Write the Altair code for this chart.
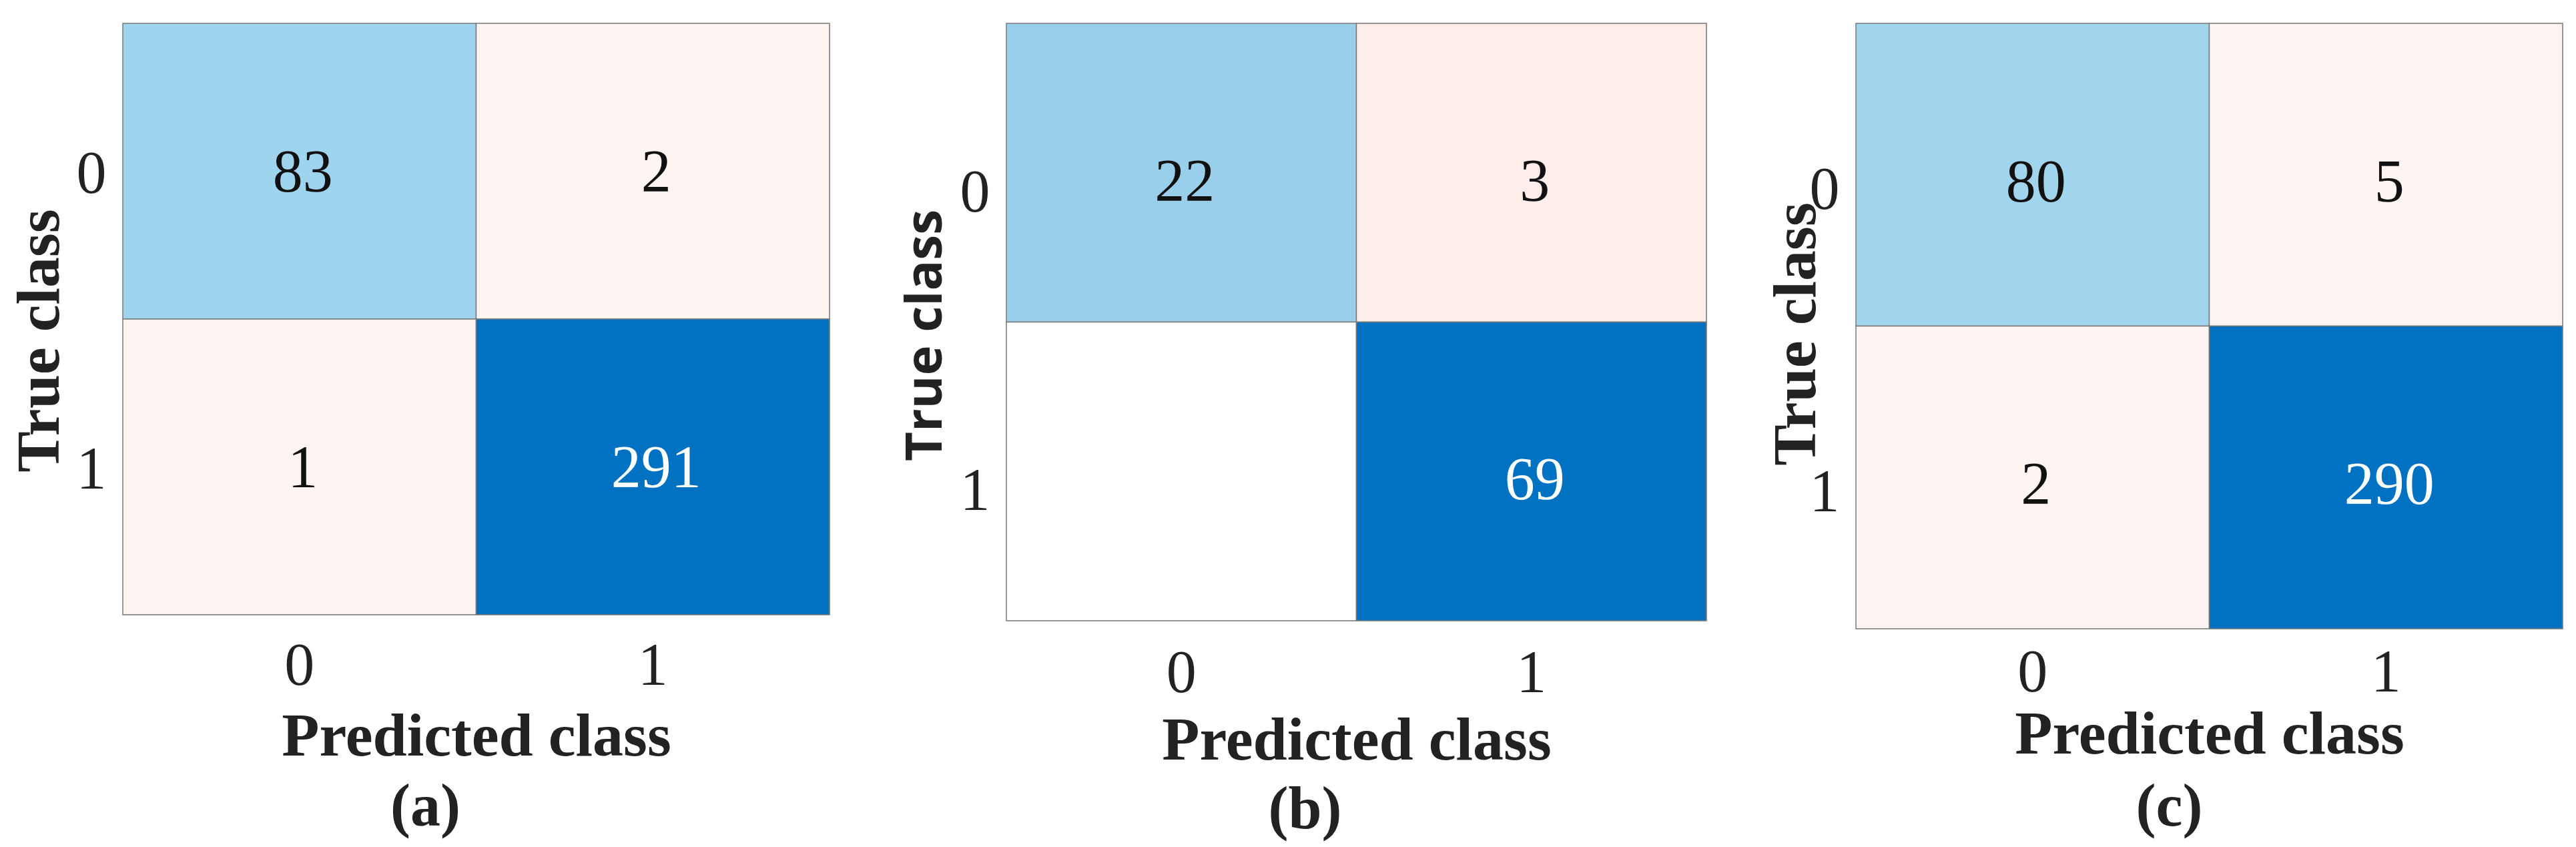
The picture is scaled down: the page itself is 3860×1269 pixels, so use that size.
import altair as alt
import pandas as pd

# ---- data ----
true_classes = ["0", "0", "1", "1"]
pred_classes = ["0", "1", "0", "1"]
counts_a = [83, 2, 1, 291]
counts_b = [22, 3, 0, 69]
counts_c = [80, 5, 2, 290]
panel_labels = ["(a)", "(b)", "(c)"]
x_title = "Predicted class"
y_title = "True class"

cells = [t + "-" + p for t, p in zip(true_classes, pred_classes)]

SERIF = "Liberation Serif"
INK = "#222222"


def panel(counts, caption, colors, w, h, ytitle_font, ytitle_size, ytitle_x, ytitle_y,
          xlab_pad, xtitle_y, ylab_off, text_dy, cap_dx, cap_offset):
    df = pd.DataFrame({"true": true_classes, "pred": pred_classes,
                       "count": counts, "cell": cells})
    x_enc = alt.X("pred:N", sort=["0", "1"], axis=alt.Axis(
        title=x_title, orient="bottom", labelAngle=0, ticks=False, domain=False,
        labelFont=SERIF, labelFontSize=90, labelColor=INK,
        labelBaseline="alphabetic", labelPadding=xlab_pad,
        titleFont=SERIF, titleFontSize=92, titleFontWeight="bold", titleColor=INK,
        titleBaseline="alphabetic", titleY=xtitle_y))
    y_enc = alt.Y("true:N", sort=["0", "1"], axis=alt.Axis(
        title=y_title, ticks=False, domain=False,
        labelFont=SERIF, labelFontSize=90, labelColor=INK, labelPadding=25,
        labelOffset=ylab_off,
        titleFont=ytitle_font, titleFontSize=ytitle_size, titleFontWeight="bold",
        titleColor=INK, titleAngle=270, titleBaseline="alphabetic",
        titleX=ytitle_x, titleY=ytitle_y))
    base = alt.Chart(df)
    rects = base.mark_rect(stroke="#7a7a7a", strokeWidth=1.5).encode(
        x=x_enc, y=y_enc,
        color=alt.Color("cell:N", scale=alt.Scale(domain=cells, range=colors), legend=None))
    texts = base.transform_filter("datum.count > 0").mark_text(
        font=SERIF, fontSize=90, dy=text_dy, dx=5).encode(
        x=alt.X("pred:N", sort=["0", "1"]),
        y=alt.Y("true:N", sort=["0", "1"]),
        text="count:Q",
        color=alt.condition("datum.cell == '1-1'", alt.value("white"), alt.value("#111111")))
    return alt.layer(rects, texts).properties(
        width=w, height=h,
        title=alt.TitleParams(text=caption, orient="bottom", anchor="middle", frame="group",
                              dx=cap_dx, offset=cap_offset, font=SERIF, fontSize=90,
                              fontWeight="bold", color=INK, baseline="alphabetic"))


pa = panel(counts_a, panel_labels[0],
           ["#9FD4EE", "#FEF4F1", "#FEF4F1", "#0072C1"],
           1059, 886, SERIF, 92, -97, 475, 104, 210, 5, 3, -76, 88)
pb = panel(counts_b, panel_labels[1],
           ["#9ACFEB", "#FEEEEA", "#FFFFFF", "#0072C1"],
           1049, 895, "Open Sans", 76, -98, 467, 106, 207, 31, 15, -77, 86)
pc = panel(counts_c, panel_labels[2],
           ["#A1D4ED", "#FEF4F1", "#FEF4F1", "#0072C1"],
           1059, 907, SERIF, 92, -62, 465, 93, 186, 24, 13, -60, 91)

inner = alt.hconcat(pa, pb, spacing=103).resolve_scale(color="independent")
chart = alt.hconcat(inner, pc, spacing=85).resolve_scale(
    color="independent"
).properties(
    padding={"left": 4, "top": 25, "right": 5, "bottom": 5}
).configure_view(
    stroke="#808080", strokeWidth=2
).configure(background="white")

chart.save("out.html", embed_options={"renderer": "svg", "actions": False})
